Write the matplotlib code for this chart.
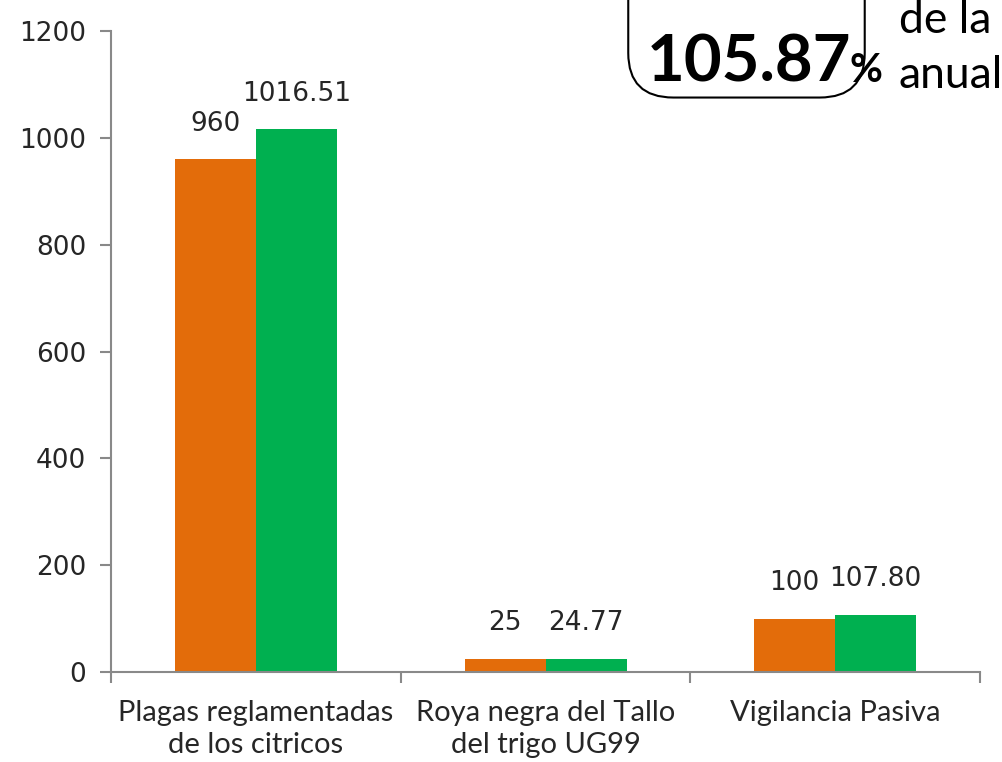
import numpy as np
import matplotlib.pyplot as plt
from matplotlib.patches import FancyBboxPatch

# datos
categorias = ['Plagas reglamentadas\nde los citricos', 'Roya negra del Tallo\ndel trigo UG99', 'Vigilancia Pasiva']
programado = [960, 25, 100]
alcanzado = [1016.51, 24.77, 107.80]
etiq_prog = ['960', '25', '100']
etiq_alc = ['1016.51', '24.77', '107.80']

naranja = '#E36C0A'
verde = '#00B050'
gris = '#898989'

fig = plt.figure(figsize=(10.02, 7.62), dpi=100)
ax = fig.add_axes([0.111, 0.118, 0.867, 0.841])

x = np.arange(len(categorias))
w = 0.28
ax.bar(x - w/2, programado, w, color=naranja)
ax.bar(x + w/2, alcanzado, w, color=verde)

for i in range(len(x)):
    ax.text(x[i] - w/2, programado[i] + 42, etiq_prog[i], ha='center', va='bottom',
            fontsize=19, color='#262626')
    ax.text(x[i] + w/2, alcanzado[i] + 42, etiq_alc[i], ha='center', va='bottom',
            fontsize=19, color='#262626')

ax.set_xlim(-0.5, 2.5)
ax.set_ylim(0, 1200)
ax.set_yticks(range(0, 1201, 200))
ax.set_xticks([-0.5, 0.5, 1.5, 2.5], minor=False)
ax.set_xticklabels([])
ax.set_xticks(x, minor=True)
ax.set_xticklabels(categorias, minor=True, fontsize=21, family='Lato', color='#262626',
                   linespacing=1.3)
ax.tick_params(axis='x', which='minor', length=0, pad=20)
ax.tick_params(axis='x', which='major', length=8, color=gris, width=1.5, direction='out')
ax.tick_params(axis='y', length=8, color=gris, width=1.5, labelsize=19, labelcolor='#262626', pad=10)

for s in ['top', 'right']:
    ax.spines[s].set_visible(False)
for s in ['left', 'bottom']:
    ax.spines[s].set_color(gris)
    ax.spines[s].set_linewidth(1.5)

# recuadro con el porcentaje
caja = FancyBboxPatch((0.627, 0.872), 0.236, 0.3, boxstyle='round,pad=0,rounding_size=0.045',
                      transform=fig.transFigure, facecolor='white', edgecolor='black',
                      linewidth=1.5, mutation_aspect=1.3)
fig.patches.append(caja)
fig.text(0.645, 0.893, '105.87', fontsize=47, fontweight='bold', family='Lato', color='black')
fig.text(0.848, 0.893, '%', fontsize=29, fontweight='bold', family='Lato', color='black')
fig.text(0.897, 0.957, 'de la', fontsize=32, family='Lato', color='black')
fig.text(0.897, 0.885, 'anual', fontsize=32, family='Lato', color='black')

fig.savefig('out.png', dpi=100)
